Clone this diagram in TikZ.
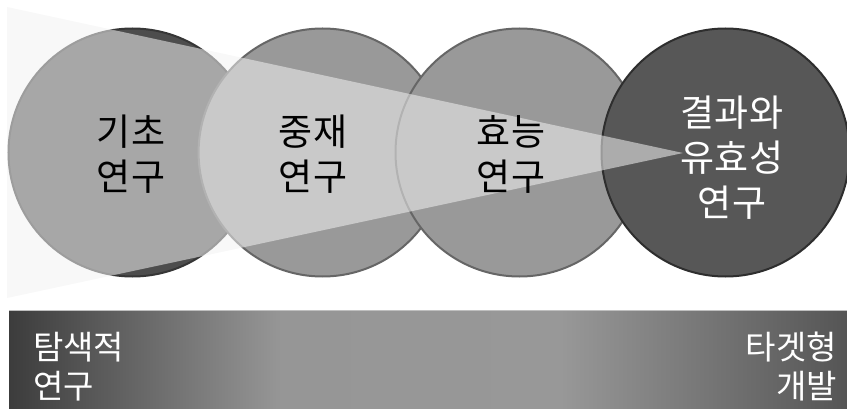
\documentclass[tikz,border=0pt]{standalone}
\usepackage{fontspec}
\newfontfamily\kr{Noto Sans CJK KR}
\definecolor{cafill}{HTML}{4D4D4D}
\definecolor{caline}{HTML}{363636}
\definecolor{cbfill}{HTML}{999999}
\definecolor{cbline}{HTML}{666666}
\definecolor{cdfill}{HTML}{575757}
\definecolor{cdline}{HTML}{2E2E2E}
\definecolor{wedgecol}{HTML}{F2F2F2}
\definecolor{barA}{HTML}{3C3C3C}
\definecolor{barB}{HTML}{969696}
\definecolor{barC}{HTML}{989898}
\definecolor{barD}{HTML}{555555}
\pgfdeclarehorizontalshading{barshade}{100bp}{color(0bp)=(barA); color(25bp)=(barA); color(41.2bp)=(barB); color(57.9bp)=(barC); color(75bp)=(barD); color(100bp)=(barD)}
\begin{document}
\begin{tikzpicture}[x=1pt,y=-1pt,
  circ/.style={circle, minimum size=248pt, inner sep=0pt, line width=2pt},
  ctext/.style={font=\kr\fontsize{37}{45}\selectfont, align=center, inner sep=0pt},
  btext/.style={font=\kr\fontsize{33}{39}\selectfont, text=white, inner sep=0pt}]
\useasboundingbox (0,0) rectangle (847,409);
% circles
\node[circ, fill=cafill, draw=caline] (c1) at (132.5,152.5) {};
\node[circ, fill=cbfill, draw=cbline] (c2) at (322.6,152.5) {};
\node[circ, fill=cbfill, draw=cbline] (c3) at (519.5,152.5) {};
\node[circ, fill=cdfill, draw=cdline] (c4) at (725.5,152.5) {};
% translucent wedge
\coordinate (wa) at (7,7);
\coordinate (wb) at (7,298);
\coordinate (wc) at (683,153);
\fill[wedgecol, fill opacity=0.55] (wa) -- (wc) -- (wb) -- cycle;
% circle texts
\node[ctext] (t1) at (131,154) {기초\\연구};
\node[ctext] (t2) at (313,154) {중재\\연구};
\node[ctext] (t3) at (511,154) {효능\\연구};
\node[ctext, text=white] (t4) at (732,158) {결과와\\유효성\\연구};
% bottom bar
\coordinate (ba) at (9,310);
\coordinate (bb) at (847,409);
\shade[shading=barshade] (ba) rectangle (bb);
\draw[line width=1pt, color=black!25] (ba) -- (ba -| bb);
\node[btext, anchor=west, align=left] (lt) at (33,367) {탐색적\\연구};
\node[btext, anchor=east, align=right] (rt) at (837,367) {타겟형\\개발};
\end{tikzpicture}
\end{document}
